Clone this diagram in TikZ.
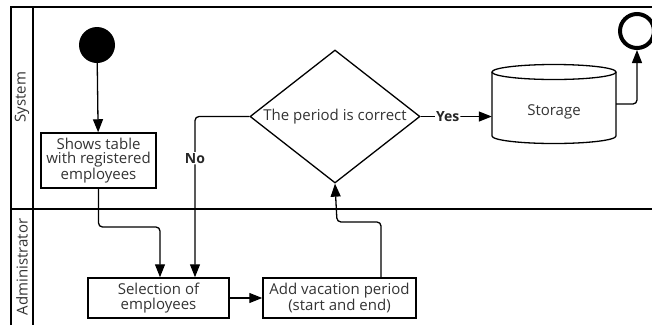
\documentclass[tikz,border=0pt]{standalone}
\usepackage{fontspec}
\setmainfont{Open Sans}
\usetikzlibrary{shapes.geometric,arrows.meta,positioning}
\begin{document}
\begin{tikzpicture}[x=1pt,y=-1pt,
  lane/.style={line width=1.6pt},
  txt/.style={font=\fontsize{15}{14.5}\selectfont,text=black!80},
  box/.style={draw,line width=1.5pt,align=center,inner sep=0pt,txt},
  conn/.style={line width=1.3pt,rounded corners=4pt,-{Triangle[length=13pt,width=10pt]}},
  lbl/.style={font=\bfseries\fontsize{14}{14}\selectfont,text=black!85,fill=white,inner sep=1pt}]
\useasboundingbox (0,0) rectangle (652,325);
% lanes
\draw[lane] (11,325) -- (11,6.7) -- (652,6.7);
\draw[lane] (33,6.7) -- (33,325);
\draw[lane] (11,209) -- (652,209);
\node[rotate=90,txt] (sys) at (22,97) {System};
\node[rotate=90,txt] (adm) at (22,267) {Administrator};
% nodes
\node[circle,fill=black,minimum size=36pt,inner sep=0pt] (start) at (97,45) {};
\node[box,minimum width=115pt,minimum height=55pt] (show) at (98.5,160.5) {Shows table\\with registered\\employees};
\node[draw,diamond,line width=1.3pt,minimum width=170pt,minimum height=133pt,aspect=1.28,inner sep=0pt] (dec) at (335,116.5) {};
\node[txt] (dect) at (dec) {The period is correct};
% storage cylinder
\node[minimum width=124pt,minimum height=78pt,inner sep=0pt] (sto) at (554,104) {};
\draw[line width=1.3pt] (492,72) -- (492,136) arc[start angle=180,end angle=360,x radius=62pt,y radius=7.5pt] -- (616,72);
\draw[line width=1.3pt] (554,72) ellipse[x radius=62pt,y radius=7.5pt];
\node[txt] (stot) at (554,112) {Storage};
\node[circle,draw,line width=4pt,minimum size=34pt,inner sep=0pt] (end) at (637,31) {};
\node[box,minimum width=141pt,minimum height=40pt] (sel) at (158.5,298) {Selection of\\employees};
\node[box,minimum width=153pt,minimum height=40pt] (add) at (339.5,298) {Add vacation period\\(start and end)};
% connectors
\draw[conn] (start) -- (show);
\draw[conn] (show.south) |- (160,227) -- (sel.north -| 160,0);
\draw[conn] (dec.west) -| (sel.north -| 195,0) node[lbl,pos=0.63] {No};
\draw[conn] (sel) -- (add);
\draw[conn] (add.north -| 381,0) |- (337,222) -- (dec.south);
\draw[conn] (dec.east) -- (dec.east -| sto.west) node[lbl,pos=0.38] {Yes};
\draw[conn] (sto.east |- 0,104) -| (end.south);
\end{tikzpicture}
\end{document}
